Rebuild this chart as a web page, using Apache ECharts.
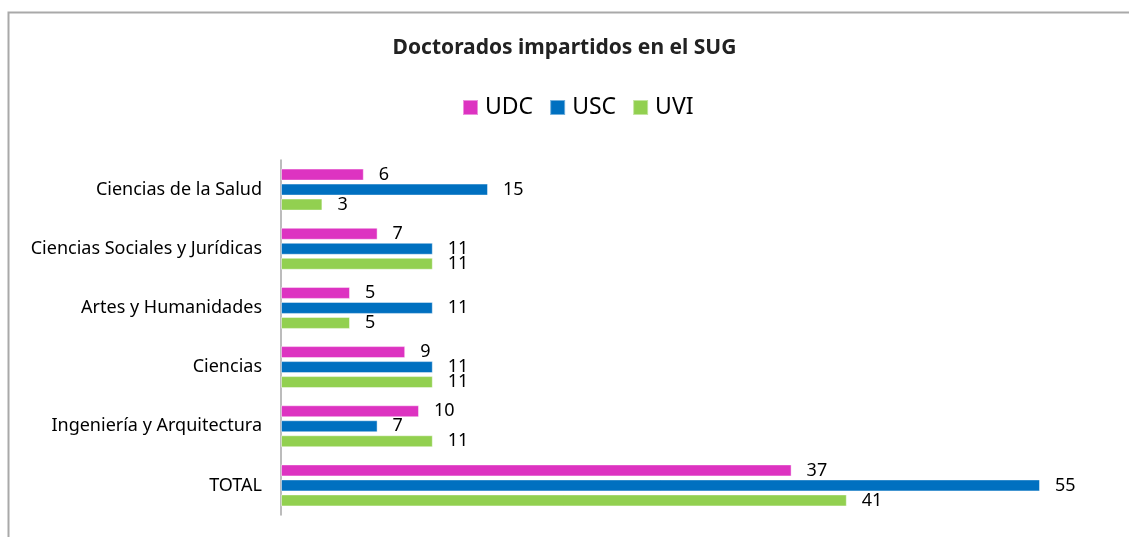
<!DOCTYPE html>
<html>
<head>
<meta charset="utf-8">
<script src="https://cdn.jsdelivr.net/npm/echarts@6/dist/echarts.min.js"></script>
<style>
  html, body { margin: 0; padding: 0; background: #fff; }
  #chart { width: 1129px; height: 537px; }
</style>
</head>
<body>
<div id="chart"></div>
<script>
// categories, top to bottom
const categories = ['Ciencias de la Salud', 'Ciencias Sociales y Jurídicas', 'Artes y Humanidades', 'Ciencias', 'Ingeniería y Arquitectura', 'TOTAL'];
const udc = [6, 7, 5, 9, 10, 37];
const usc = [15, 11, 11, 11, 7, 55];
const uvi = [3, 11, 5, 11, 11, 41];

const font = 'Noto Sans';
const chart = echarts.init(document.getElementById('chart'));

function bar(name, data, color) {
  return {
    name: name,
    type: 'bar',
    data: data,
    barWidth: 12,
    barGap: '25%',
    itemStyle: { color: color, borderColor: 'rgba(255,255,255,0.45)', borderWidth: 1 },
    label: {
      show: true,
      position: 'right',
      distance: 15,
      color: '#000',
      fontFamily: font,
      fontSize: 18
    }
  };
}

var option = {
  animation: false,
  graphic: [{
    type: 'rect',
    left: 6,
    top: 10,
    shape: { width: 1200, height: 600 },
    style: { fill: 'none', stroke: '#a9a9a9', lineWidth: 2 },
    silent: true
  }],
  title: {
    text: 'Doctorados impartidos en el SUG',
    left: 'center',
    top: 33,
    textStyle: { fontFamily: font, fontSize: 21, fontWeight: 'bold', color: '#222' }
  },
  legend: {
    top: 91,
    left: 457,
    itemWidth: 15,
    itemHeight: 15,
    itemGap: 16,
    icon: 'rect',
    textStyle: { fontFamily: font, fontSize: 23, color: '#000', padding: [0, 0, 0, 2] },
    data: ['UDC', 'USC', 'UVI']
  },
  grid: {
    left: 281,
    right: 89,
    top: 160,
    bottom: 22,
    containLabel: false
  },
  xAxis: {
    type: 'value',
    min: 0,
    max: 55,
    show: false
  },
  yAxis: {
    type: 'category',
    inverse: true,
    data: categories,
    axisLine: { show: true, lineStyle: { color: '#a6a6a6', width: 1.5 } },
    axisTick: { show: false },
    axisLabel: { fontFamily: font, fontSize: 18, color: '#000', margin: 19 }
  },
  series: [
    bar('UDC', udc, '#dd33c1'),
    bar('USC', usc, '#0070c0'),
    bar('UVI', uvi, '#92d050')
  ]
};

chart.setOption(option);
</script>
</body>
</html>
